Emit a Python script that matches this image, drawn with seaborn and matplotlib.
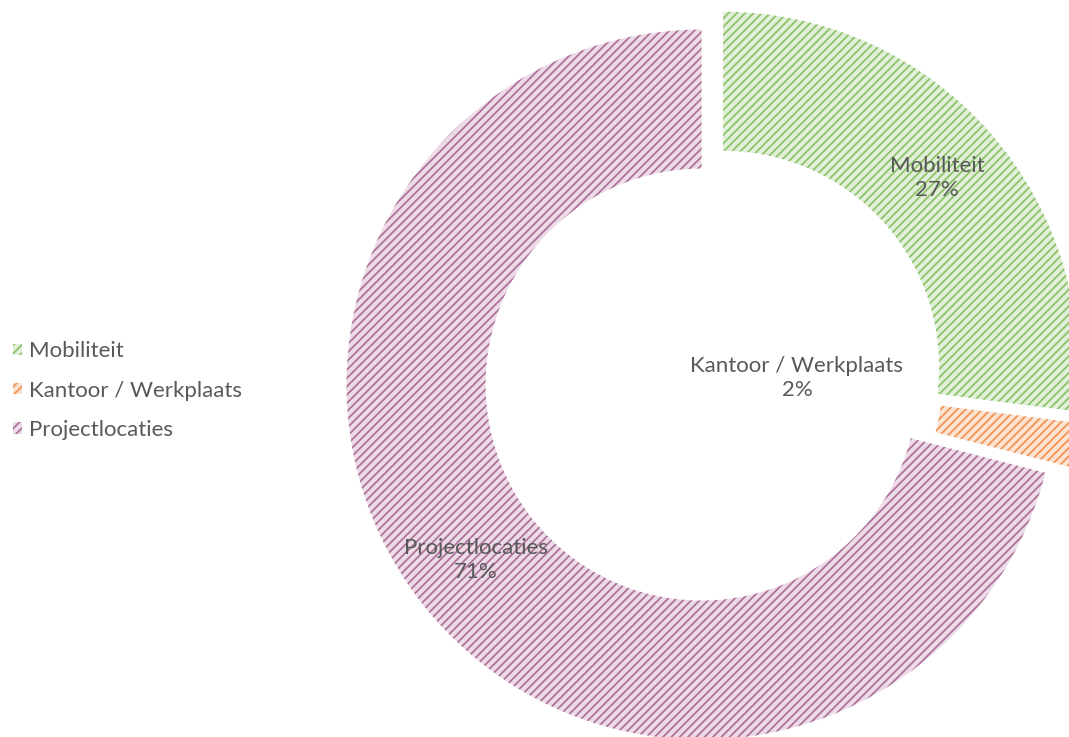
import numpy as np
import matplotlib
matplotlib.use("Agg")
import matplotlib.pyplot as plt
import matplotlib.patches as mpatches
import seaborn as sns

categories = ["Mobiliteit", "Kantoor / Werkplaats", "Projectlocaties"]
shares = [27, 2, 71]
hatch_colors = ["#8cc36a", "#f29455", "#ad7399"]
face_colors = ["#e2efd8", "#fbe3d2", "#eddce7"]

sns.set_theme(style="white")
plt.rcParams["font.family"] = ["Lato", "DejaVu Sans"]
plt.rcParams["hatch.linewidth"] = 1.3

fig = plt.figure(figsize=(10.69, 7.37), dpi=100)
ax = fig.add_axes([0, 0, 1, 1])

# pixel-like data space so the ring can run off the right / bottom edges
cx, cy = 712.6, 361
R, ring = 355, 139
wedges, _ = ax.pie(shares, radius=R, center=(cx, cy), startangle=90,
                   counterclock=False, explode=[14, 14, 14],
                   colors=face_colors,
                   wedgeprops=dict(width=ring, linewidth=0))
for w, hc in zip(wedges, hatch_colors):
    w.set_hatch("////")
    w.set_edgecolor(hc)
    w.set_linewidth(0)

ax.set_xlim(0, 1069)
ax.set_ylim(0, 737)
ax.set_aspect("auto")
ax.axis("off")

txt_color = "#595959"
mid_r = R - ring / 2
for w, name, val in zip(wedges, categories, shares):
    lab = f"{name}\n{val}%"
    if name.startswith("Kantoor"):
        ax.text(797, 737 - 378, lab, ha="center", va="center",
                fontsize=16, color=txt_color, linespacing=1.25)
        continue
    ang = np.deg2rad((w.theta1 + w.theta2) / 2)
    x0, y0 = w.center
    ax.text(x0 + mid_r * np.cos(ang), y0 + mid_r * np.sin(ang), lab,
            ha="center", va="center", fontsize=16, color=txt_color,
            linespacing=1.25)

handles = [mpatches.Rectangle((0, 0), 1, 1, facecolor=fc, edgecolor=hc,
                              hatch="////", linewidth=0)
           for fc, hc in zip(face_colors, hatch_colors)]
fig.legend(handles, categories, loc="center left",
           bbox_to_anchor=(-0.007, 0.47), frameon=False,
           fontsize=16, labelcolor=txt_color,
           handlelength=0.42, handleheight=0.42,
           handletextpad=0.32, labelspacing=0.87)

fig.savefig("out.png", dpi=100)
